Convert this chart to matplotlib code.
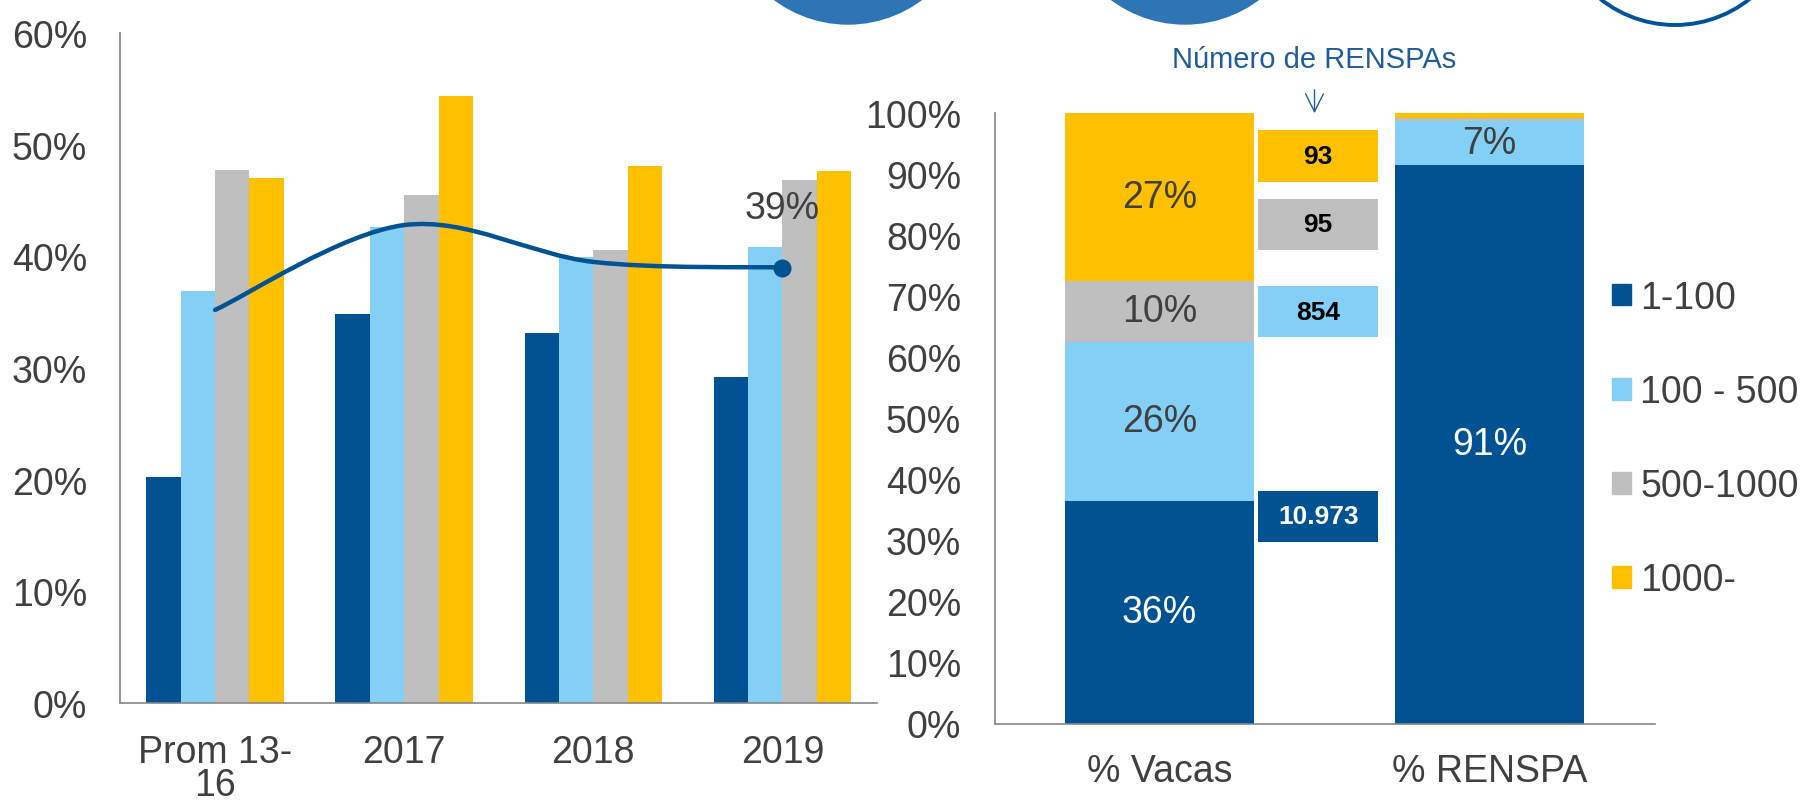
import matplotlib
matplotlib.use("Agg")
import matplotlib.pyplot as plt
import numpy as np
from matplotlib.path import Path
from matplotlib.patches import PathPatch, Circle, Patch

plt.rcParams['font.family'] = ['Liberation Sans', 'DejaVu Sans']

# ---- data ----
years = ['Prom 13-\n16', '2017', '2018', '2019']
series = ['1-100', '100 - 500', '500-1000', '1000-']
colors = ['#005293', '#83cff5', '#bfbfbf', '#ffc000']

share_1_100 = [20.2, 34.8, 33.1, 29.2]
share_100_500 = [36.9, 42.6, 39.9, 40.8]
share_500_1000 = [47.7, 45.5, 40.6, 46.8]
share_1000 = [47.0, 54.4, 48.1, 47.6]
total_line = [35.2, 42.8, 39.5, 39.0]

stack_cats = ['% Vacas', '% RENSPA']
vacas = [36.4, 26.1, 10.0, 27.4]
renspa = [91.4, 7.3, 0.5, 0.8]
renspa_counts = ['10.973', '854', '95', '93']

TXT = '#404040'
SPINE = '#868686'
W, H = 1802, 803

fig = plt.figure(figsize=(W / 100, H / 100), dpi=100)

# decorative circles cut at the top edge
deco = fig.add_axes([0, 0, 1, 1], zorder=-1)
deco.set_xlim(0, W)
deco.set_ylim(H, 0)
deco.axis('off')
deco.add_patch(Circle((848, -98), 123, color='#2e75b6', clip_on=False))
deco.add_patch(Circle((1185, -98), 123, color='#2e75b6', clip_on=False))
deco.add_patch(Circle((1675, -94), 120, facecolor='white', edgecolor='#00529b', lw=2.8, clip_on=False))

# ---- left: grouped bars + smoothed line ----
ax1 = fig.add_axes([120.5 / W, 1 - 704 / H, (877 - 120.5) / W, (704 - 34) / H])
x = np.arange(len(years))
bw = 0.1818
groups = [share_1_100, share_100_500, share_500_1000, share_1000]
for i, (vals, c) in enumerate(zip(groups, colors)):
    ax1.bar(x + (i - 1.5) * bw, vals, bw, color=c, zorder=2)

# smoothed line as a bezier path through the points
pts = np.column_stack([x, total_line]).astype(float)
ext = np.vstack([pts[0], pts, pts[-1]])
verts = [pts[0]]
codes = [Path.MOVETO]
for k in range(len(pts) - 1):
    p0, p1, p2, p3 = ext[k], ext[k + 1], ext[k + 2], ext[k + 3]
    verts += [p1 + (p2 - p0) / 6, p2 - (p3 - p1) / 6, p2]
    codes += [Path.CURVE4] * 3
ax1.add_patch(PathPatch(Path(verts, codes), facecolor='none', edgecolor='#005293',
                        lw=3.2, zorder=3, capstyle='round'))
ax1.plot(x[-1], total_line[-1], 'o', color='#005293', ms=12, zorder=4)
ax1.annotate(f'{total_line[-1]:.0f}%', (x[-1], total_line[-1]), xytext=(0, 43),
             textcoords='offset points', ha='center', va='center', fontsize=27, color=TXT)

ax1.set_xlim(-0.5, len(years) - 0.5)
ax1.set_ylim(0, 60)
ax1.set_yticks(range(0, 61, 10))
ax1.set_yticklabels([f'{v}%' for v in range(0, 61, 10)])
ax1.set_xticks(x)
ax1.set_xticklabels(years, linespacing=0.92)

# ---- right: 100% stacked bars ----
ax2 = fig.add_axes([994.5 / W, 1 - 724.5 / H, (1654.5 - 994.5) / W, (724.5 - 113.7) / H])
xs = np.arange(len(stack_cats))
sw = 0.571
bottoms = np.zeros(2)
for i in range(4):
    vals = np.array([vacas[i], renspa[i]])
    ax2.bar(xs, vals, sw, bottom=bottoms, color=colors[i], zorder=2, label=series[i])
    for j in range(2):
        if vals[j] >= 5:
            lc = 'white' if (i == 0) else TXT
            ax2.text(xs[j], bottoms[j] + vals[j] / 2, f'{vals[j]:.0f}%', ha='center',
                     va='center', fontsize=27, color=lc)
    bottoms += vals

# count boxes (Número de RENSPAs)
box_mid = [33.9, 67.4, 81.7, 92.9]
box_h = 8.4
for cnt, mid, c in zip(renspa_counts, box_mid, colors):
    ax2.bar(0.481, box_h, 0.3625, bottom=mid - box_h / 2, color=c, zorder=2)
    ax2.text(0.481, mid, cnt, ha='center', va='center', fontsize=19, fontweight='bold',
             color='white' if c == colors[0] else 'black')

fig.text(1314.5 / W, 1 - 60 / H, 'Número de RENSPAs', ha='center', va='center',
         fontsize=21, color='#1f5c9e')
deco.annotate('', xy=(1314.5, 117), xytext=(1314.5, 88),
              arrowprops=dict(arrowstyle='->', color='#1f5c9e', lw=1.0, mutation_scale=32))

ax2.set_xlim(-0.5, 1.5)
ax2.set_ylim(0, 100)
ax2.set_yticks(range(0, 101, 10))
ax2.set_yticklabels([f'{v}%' for v in range(0, 101, 10)])
ax2.set_xticks(xs)
ax2.set_xticklabels(stack_cats)

handles = [Patch(color=c) for c in colors]
fig.legend(handles, series, loc='upper left', bbox_to_anchor=(1612 / W, 1 - 281 / H),
           frameon=False, fontsize=27, handlelength=0.5, handleheight=0.5,
           handletextpad=0.25, labelspacing=1.55, borderpad=0, borderaxespad=0,
           labelcolor=TXT)

for ax in (ax1, ax2):
    for s in ('top', 'right'):
        ax.spines[s].set_visible(False)
    for s in ('left', 'bottom'):
        ax.spines[s].set_color(SPINE)
        ax.spines[s].set_linewidth(1.2)
    ax.tick_params(axis='y', length=0, pad=24, labelsize=27, labelcolor=TXT)
ax1.tick_params(axis='x', length=0, pad=22, labelsize=27, labelcolor=TXT)
ax2.tick_params(axis='x', length=0, pad=21, labelsize=27, labelcolor=TXT)

fig.savefig('out.png', dpi=100)
